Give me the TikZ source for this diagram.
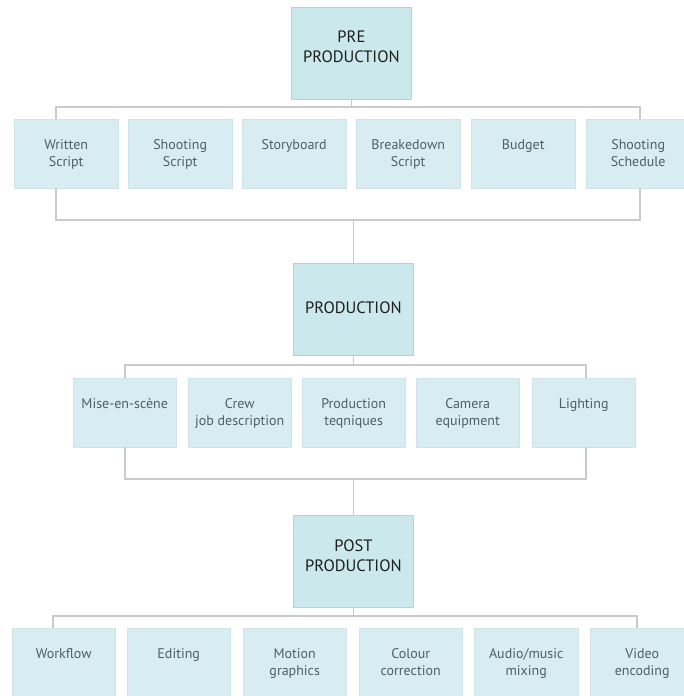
\documentclass[tikz,border=0pt]{standalone}
\usepackage{fontspec}
\setmainfont{PT Sans}
\usetikzlibrary{calc}
\definecolor{subfill}{HTML}{D8EDF1}
\definecolor{subline}{HTML}{D0E4E8}
\definecolor{mainfill}{HTML}{CBE8ED}
\definecolor{boxline}{HTML}{BCD0D3}
\definecolor{linegrey}{HTML}{CACACA}
\definecolor{subtext}{HTML}{4E6065}
\definecolor{maintext}{HTML}{1E1E1E}
\tikzset{
  subbox/.style={draw=subline, fill=subfill, line width=0.4pt, inner sep=0pt, anchor=north west},
  mainbox/.style={draw=boxline, fill=mainfill, line width=0.8pt, inner sep=0pt, anchor=north west,
    minimum width=120pt, minimum height=92pt},
  sublbl/.style={font=\fontsize{14}{17}\selectfont, text=subtext, align=center, anchor=north, inner sep=0pt},
  mainlbl/.style={font=\fontsize{16.5}{20}\selectfont, text=maintext, align=center, anchor=north, inner sep=0pt},
  conn/.style={draw=linegrey, line width=1.2pt}
}
\begin{document}
\begin{tikzpicture}[x=1pt,y=-1pt]
\useasboundingbox (0,0) rectangle (683,696);
% main boxes
\node[mainbox] (pre) at (291,7) {};
\node[mainbox] (prod) at (293,263) {};
\node[mainbox] (post) at (293,515) {};
% row 1
\node[subbox, minimum width=104pt, minimum height=69pt] (ws) at (14,119) {};
\node[subbox, minimum width=104pt, minimum height=69pt] (shs) at (128,119) {};
\node[subbox, minimum width=104pt, minimum height=69pt] (sb) at (242,119) {};
\node[subbox, minimum width=104pt, minimum height=69pt] (bs) at (356,119) {};
\node[subbox, minimum width=104pt, minimum height=69pt] (bu) at (471,119) {};
\node[subbox, minimum width=104pt, minimum height=69pt] (ssc) at (586,119) {};
% row 2
\node[subbox, minimum width=103pt, minimum height=69pt] (mes) at (73,378) {};
\node[subbox, minimum width=103pt, minimum height=69pt] (crew) at (188,378) {};
\node[subbox, minimum width=103pt, minimum height=69pt] (pt) at (302,378) {};
\node[subbox, minimum width=103pt, minimum height=69pt] (cam) at (416,378) {};
\node[subbox, minimum width=103pt, minimum height=69pt] (li) at (532,378) {};
% row 3
\node[subbox, minimum width=103pt, minimum height=70pt] (wf) at (12,628) {};
\node[subbox, minimum width=103pt, minimum height=70pt] (ed) at (127,628) {};
\node[subbox, minimum width=103pt, minimum height=70pt] (mg) at (243,628) {};
\node[subbox, minimum width=103pt, minimum height=70pt] (cc) at (359,628) {};
\node[subbox, minimum width=104pt, minimum height=70pt] (am) at (474,628) {};
\node[subbox, minimum width=104pt, minimum height=70pt] (ve) at (590,628) {};

% bus coordinates
\coordinate (t1) at (56,107);   \coordinate (t2) at (640,107);
\coordinate (u1) at (56,220);   \coordinate (u2) at (640,220);
\coordinate (p1) at (125,365);  \coordinate (p2) at (586,365);
\coordinate (q1) at (125,479);  \coordinate (q2) at (586,479);
\coordinate (r1) at (53,616);   \coordinate (r2) at (637,616);

% pre production
\draw[conn] (pre.south) -- (pre.south |- t1);
\draw[conn] (ws.north -| t1) -- (t1) -- (t2) -- (ssc.north -| t2);
\draw[conn] (ws.south -| u1) -- (u1) -- (u2) -- (ssc.south -| u2);
\draw[conn] (prod.north |- u1) -- (prod.north);
% production
\draw[conn] (prod.south) -- (prod.south |- p1);
\draw[conn] (mes.north -| p1) -- (p1) -- (p2) -- (li.north -| p2);
\draw[conn] (mes.south -| q1) -- (q1) -- (q2) -- (li.south -| q2);
\draw[conn] (post.north |- q1) -- (post.north);
% post production
\draw[conn] (post.south) -- (post.south |- r1);
\draw[conn] (wf.north -| r1) -- (r1) -- (r2) -- (ve.north -| r2);

% labels
\node[mainlbl] (preT) at ([yshift=-24pt]pre.north) {PRE\\PRODUCTION};
\node[mainlbl] (prodT) at ([yshift=-38.5pt]prod.north) {PRODUCTION};
\node[mainlbl] (postT) at ([yshift=-25pt]post.north) {POST\\PRODUCTION};

\node[sublbl] (wsT) at ([yshift=-20.5pt]ws.north) {Written\\Script};
\node[sublbl] (shsT) at ([yshift=-20.5pt]shs.north) {Shooting\\Script};
\node[sublbl] (sbT) at ([yshift=-20.5pt]sb.north) {Storyboard};
\node[sublbl] (bsT) at ([yshift=-20.5pt]bs.north) {Breakedown\\Script};
\node[sublbl] (buT) at ([yshift=-20.5pt]bu.north) {Budget};
\node[sublbl] (sscT) at ([yshift=-20.5pt]ssc.north) {Shooting\\Schedule};

\node[sublbl] (mesT) at ([yshift=-20.5pt]mes.north) {Mise-en-scène};
\node[sublbl] (crewT) at ([yshift=-20.5pt]crew.north) {Crew\\job description};
\node[sublbl] (ptT) at ([yshift=-20.5pt]pt.north) {Production\\teqniques};
\node[sublbl] (camT) at ([yshift=-20.5pt]cam.north) {Camera\\equipment};
\node[sublbl] (liT) at ([yshift=-20.5pt]li.north) {Lighting};

\node[sublbl] (wfT) at ([yshift=-20.5pt]wf.north) {Workflow};
\node[sublbl] (edT) at ([yshift=-20.5pt]ed.north) {Editing};
\node[sublbl] (mgT) at ([yshift=-20.5pt]mg.north) {Motion\\graphics};
\node[sublbl] (ccT) at ([yshift=-20.5pt]cc.north) {Colour\\correction};
\node[sublbl] (amT) at ([yshift=-20.5pt]am.north) {Audio/music\\mixing};
\node[sublbl] (veT) at ([yshift=-20.5pt]ve.north) {Video\\encoding};
\end{tikzpicture}
\end{document}
